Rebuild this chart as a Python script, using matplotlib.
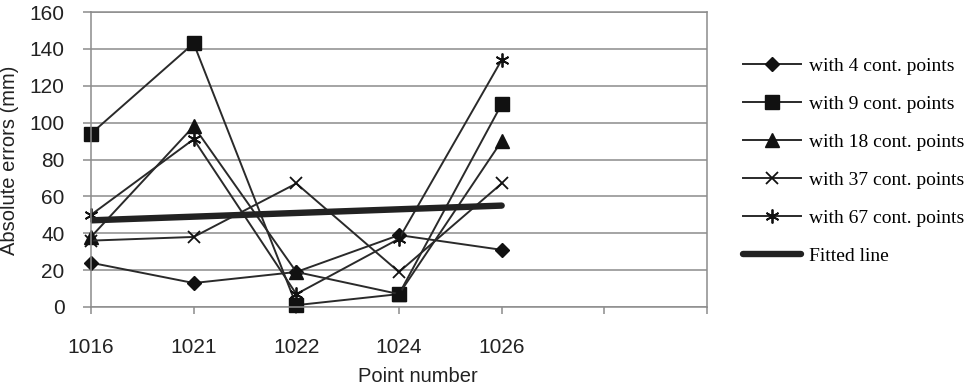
import numpy as np
import matplotlib.pyplot as plt

# categories (two empty slots at the right, as in the original sheet)
points = ['1016', '1021', '1022', '1024', '1026', '', '']

# absolute errors (mm)
e4 = [24, 13, 19, 39, 31]
e9 = [94, 143, 1, 7, 110]
e18 = [38, 98, 19, 7, 90]
e37 = [36, 38, 67, 19, 67]
e67 = [50, 91, 7, 37, 134]
fitted = [47, 55]

labels = ['with 4 cont. points', 'with 9 cont. points', 'with 18 cont. points',
          'with 37 cont. points', 'with 67 cont. points', 'Fitted line']

fig = plt.figure(figsize=(9.78, 3.88), dpi=100)
ax = fig.add_axes([91/978, 1 - 307/388, (707-91)/978, (307-12)/388])

x = np.arange(len(e4))
lc = '#2a2a2a'
mc = '#111111'
kw = dict(color=lc, lw=1.4, clip_on=False)
ax.plot(x, e4, marker='D', ms=7.5, mfc=mc, mec=mc, label=labels[0], **kw)
ax.plot(x, e9, marker='s', ms=9.5, mfc=mc, mec=mc, label=labels[1], **kw)
ax.plot(x, e18, marker='^', ms=9.5, mfc=mc, mec=mc, label=labels[2], **kw)
ax.plot(x, e37, marker='x', ms=9, mew=1.3, mec=mc, label=labels[3], **kw)
ax.plot(x, e67, marker=(6, 2, 0), ms=10, mew=1.3, mec=mc, label=labels[4], **kw)
ax.plot([0, 4], fitted, color='#222222', lw=4.6, solid_capstyle='round', label=labels[5])

ax.set_xlim(0, len(points) - 1)
ax.set_ylim(0, 160)
ax.set_xticks(np.arange(len(points)))
ax.set_xticklabels(points)
ax.set_yticks(np.arange(0, 161, 20))

ax.grid(axis='y', color='#8c8c8c', lw=1.1)
ax.set_axisbelow(True)
for s in ax.spines.values():
    s.set_color('#8c8c8c')
    s.set_linewidth(1.1)

ax.tick_params(axis='y', length=6, width=1.1, color='#8c8c8c', pad=13, labelsize=15)
ax.tick_params(axis='x', length=5, width=1.1, color='#8c8c8c', pad=17, labelsize=15)
for t in ax.get_xticklabels() + ax.get_yticklabels():
    t.set_family('Liberation Sans')
    t.set_color('#222222')

fig.text(418/978, 1 - 376/388, 'Point number', ha='center', va='center',
         fontsize=14.5, family='Liberation Sans', color='#222222')
fig.text(10/978, 1 - 160/388, 'Absolute errors (mm)', ha='center', va='center',
         rotation=90, fontsize=14.5, family='Liberation Sans', color='#222222')

fig.legend(loc='upper left', bbox_to_anchor=(743/978, 1 - 57/388), frameon=False,
           prop={'family': 'Liberation Serif', 'size': 14}, handlelength=3.0,
           handletextpad=0.4, labelspacing=1.05, borderpad=0, borderaxespad=0)

fig.savefig('out.png', dpi=100)
